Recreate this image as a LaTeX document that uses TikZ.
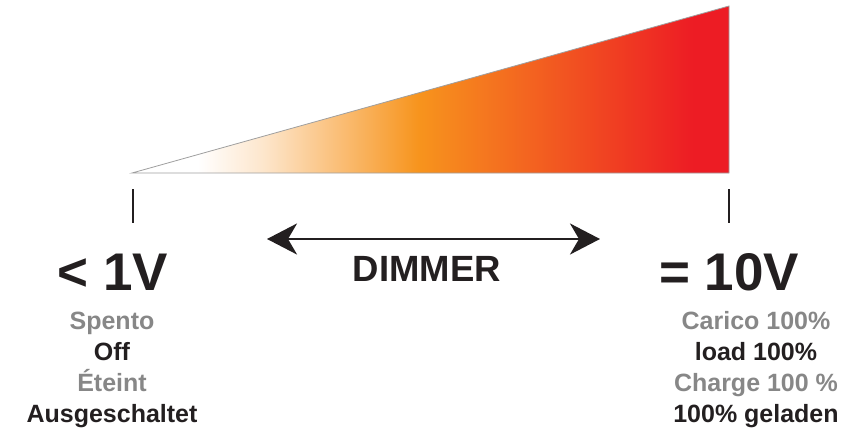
\documentclass[tikz,border=0pt]{standalone}
\usepackage{fontspec}
\setmainfont{Liberation Sans}
\usetikzlibrary{arrows.meta}
\definecolor{pale}{HTML}{FDE6CC}
\definecolor{orng}{HTML}{F7941D}
\definecolor{redd}{HTML}{ED1C24}
\definecolor{txtblack}{HTML}{231F20}
\definecolor{txtgray}{HTML}{878787}
\pgfdeclarehorizontalshading{dimgrad}{100bp}{color(0bp)=(white); color(30.5bp)=(white); color(36bp)=(pale); color(49bp)=(orng); color(72bp)=(redd); color(100bp)=(redd)}
\tikzset{
  big/.style={font=\fontsize{53}{60}\selectfont\bfseries, text=txtblack, inner sep=0pt, anchor=base},
  mid/.style={font=\fontsize{36.5}{42}\selectfont\bfseries, text=txtblack, inner sep=0pt, anchor=base},
  lbl/.style={font=\fontsize{25}{30}\selectfont\bfseries, inner sep=0pt, anchor=base},
  grey/.style={lbl, text=txtgray},
  blk/.style={lbl, text=txtblack},
  tick/.style={draw=txtblack, line width=1.8pt},
  dimarrow/.style={draw=txtblack, line width=2.5pt, {Stealth[length=30pt,width=31pt,inset=9pt]}-{Stealth[length=30pt,width=31pt,inset=9pt]}}
}
\begin{document}
\begin{tikzpicture}[x=1pt,y=-1pt]
\useasboundingbox (0,0) rectangle (867,433);
% ramp
\coordinate (tA) at (132,173);
\coordinate (tB) at (729,6);
\coordinate (tC) at (729,173);
\shade[shading=dimgrad, draw=gray!75, line width=0.8pt] (tA) -- (tB) -- (tC) -- cycle;
% ticks
\coordinate (l1) at (133,189);
\coordinate (l2) at (133,223);
\coordinate (r1) at (729,189);
\coordinate (r2) at (729,223);
\draw[tick] (l1) -- (l2);
\draw[tick] (r1) -- (r2);
% arrow
\coordinate (dl) at (267,239);
\coordinate (dr) at (600,239);
\draw[dimarrow] (dl) -- (dr);
\node[mid] (dim) at (427,281) {DIMMER};
% left
\node[big] (lv) at (113,290) {< 1V};
\node[grey] (l_a) at (112,329) {Spento};
\node[blk]  (l_b) at (112,360) {Off};
\node[grey] (l_c) at (112,391) {Éteint};
\node[blk]  (l_d) at (112,422) {Ausgeschaltet};
% right
\node[big] (rv) at (729,290) {= 10V};
\node[grey] (r_a) at (756,329) {Carico 100\%};
\node[blk]  (r_b) at (756,360) {load 100\%};
\node[grey] (r_c) at (756,391) {Charge 100 \%};
\node[blk]  (r_d) at (756,422) {100\% geladen};
\end{tikzpicture}
\end{document}
